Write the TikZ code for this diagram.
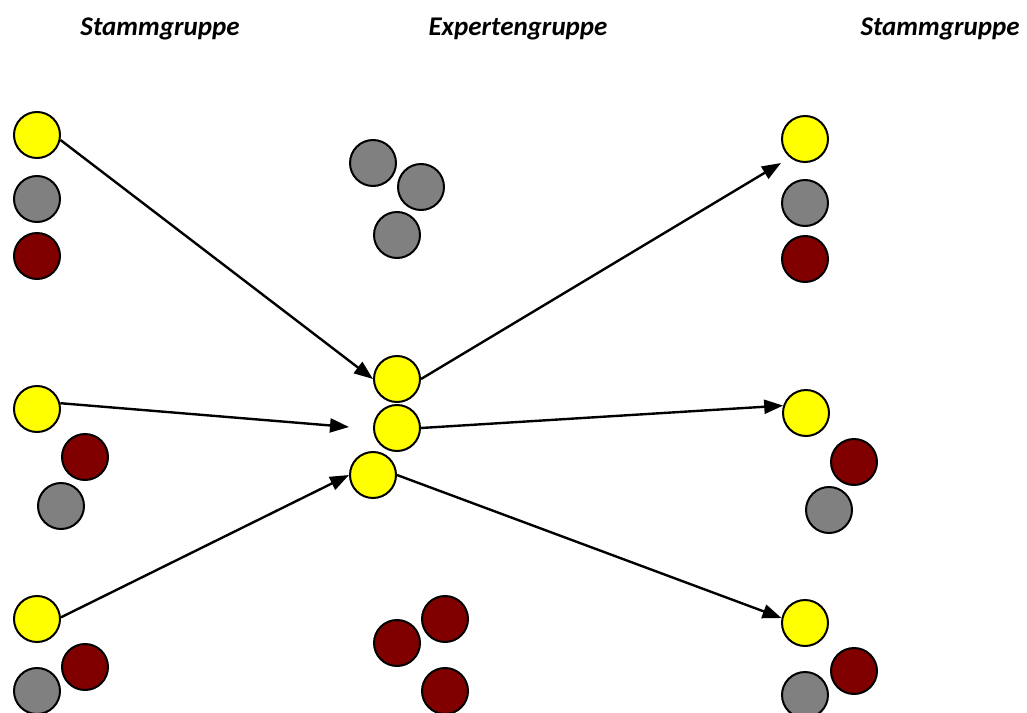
\documentclass[tikz,border=0pt]{standalone}
\usepackage{fontspec}
\setmainfont{Carlito}
\usetikzlibrary{arrows.meta}
\definecolor{cyel}{HTML}{FFFF00}
\definecolor{cgry}{HTML}{808080}
\definecolor{cred}{HTML}{800000}
\tikzset{
  ball/.style={circle, draw=black, line width=2pt, minimum size=46pt, inner sep=0pt},
  yb/.style={ball, fill=cyel},
  gb/.style={ball, fill=cgry},
  rb/.style={ball, fill=cred},
  head/.style={font=\fontsize{27}{32}\selectfont\bfseries\itshape, anchor=base, inner sep=0pt},
  arr/.style={line width=2.4pt, -{Triangle[length=19pt,width=14pt]}}
}
\begin{document}
\begin{tikzpicture}[x=1pt,y=-1pt]
\useasboundingbox (0,0) rectangle (1027,712);
% headers
\node[head] (h1) at (160,35) {Stammgruppe};
\node[head] (h2) at (518,35) {Expertengruppe};
\node[head] (h3) at (940,35) {Stammgruppe};
% left column
\node[yb] (ly1) at (37,135) {};
\node[gb] (lg1) at (37,199) {};
\node[rb] (lr1) at (37,256) {};
\node[yb] (ly2) at (37,409) {};
\node[rb] (lr2) at (85,457) {};
\node[gb] (lg2) at (61,506) {};
\node[yb] (ly3) at (37,619) {};
\node[rb] (lr3) at (85,667) {};
\node[gb] (lg3) at (37,691) {};
% middle column
\node[gb] (mg1) at (373,163) {};
\node[gb] (mg2) at (421,187) {};
\node[gb] (mg3) at (397,235) {};
\node[yb] (cy1) at (397,379) {};
\node[yb] (cy2) at (397,428) {};
\node[yb] (cy3) at (373,475) {};
\node[rb] (mr1) at (397,643) {};
\node[rb] (mr2) at (445,619) {};
\node[rb] (mr3) at (445,691) {};
% right column
\node[yb] (ry1) at (805,139) {};
\node[gb] (rg1) at (805,203) {};
\node[rb] (rr1) at (805,259) {};
\node[yb] (ry2) at (806,413) {};
\node[rb] (rr2) at (854,462) {};
\node[gb] (rg2) at (829,510) {};
\node[yb] (ry3) at (805,623) {};
\node[rb] (rr3) at (854,671) {};
\node[gb] (rg3) at (805,695) {};
% arrow end points
\coordinate (e2) at (349,427);
\coordinate (e4) at (781,163);
% arrows
\draw[arr] (ly1.-12) -- (cy1.west);
\draw[arr] (ly2.14) -- (e2);
\draw[arr] (ly3.4) -- (cy3.west);
\draw[arr] (cy1.east) -- (e4);
\draw[arr] (cy2.east) -- (ry2.162);
\draw[arr] (cy3.east) -- (ry3.168);
\end{tikzpicture}
\end{document}
